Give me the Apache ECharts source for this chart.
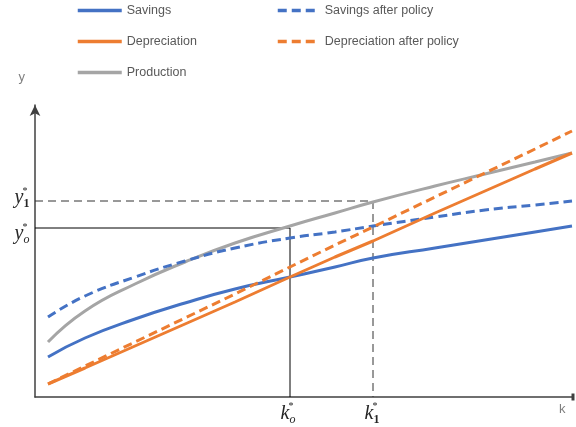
<!DOCTYPE html>
<html>
<head>
<meta charset="utf-8">
<script src="https://cdn.jsdelivr.net/npm/echarts@6/dist/echarts.min.js"></script>
<style>
html,body{margin:0;padding:0;background:#fff;}
#chart{width:576px;height:427px;}
</style>
</head>
<body>
<div id="chart"></div>
<script>
// capital stock k
var kValues = [13, 50, 100, 150, 200, 255, 300, 338, 400, 450, 500, 537];
var savings = [40, 59, 78, 94, 108, 120, 130, 139, 149, 157, 165, 171];
var savingsAfter = [80, 101, 120, 136, 149, 159, 165, 171, 180, 187, 192, 196];
var depreciation = [13, 29, 51, 73, 95, 120, 140, 156, 184, 206, 228, 244];
var depreciationAfter = [13, 31, 55, 79, 103, 130, 152, 170, 200, 224, 248, 266];
var production = [55, 86, 113, 135, 154, 171, 184, 195, 211, 223, 235, 244];
// steady states
var k0 = 255, y0 = 169;
var k1 = 338, y1 = 196;
var xMax = 538, yMax = 292;

function pairs(arr) { return kValues.map(function (k, i) { return [k, arr[i]]; }); }

var BLUE = '#4472C4', ORANGE = '#ED7D31', GRAY = '#A5A5A5';

var rich = {
  v: { fontFamily: 'Liberation Serif', fontStyle: 'italic', fontSize: 20, color: '#262626', lineHeight: 24, verticalAlign: 'middle' },
  subi: { fontFamily: 'Liberation Serif', fontStyle: 'italic', fontSize: 12, color: '#262626', verticalAlign: 'bottom', lineHeight: 24 },
  subn: { fontFamily: 'Liberation Serif', fontWeight: 'bold', fontSize: 12, color: '#262626', verticalAlign: 'bottom', lineHeight: 24 },
  sup: { fontFamily: 'Liberation Serif', fontSize: 10, color: '#262626', verticalAlign: 'top', lineHeight: 24, padding: [0, 0, 0, -7] }
};

function refLabel(pos, main, sub, subStyle, offset, dist) {
  return { show: true, position: pos, distance: dist || 4, offset: offset || [0, 0], formatter: '{v|' + main + '}{' + subStyle + '|' + sub + '}{sup|*}', rich: rich };
}

var legendText = { color: '#595959', fontSize: 12.5, fontFamily: 'Liberation Sans' };

var chart = echarts.init(document.getElementById('chart'));
chart.setOption({
  animation: false,
  backgroundColor: '#ffffff',
  grid: { left: 35, right: 3, top: 105, bottom: 30, containLabel: false },
  legend: [
    {
      orient: 'vertical', left: 76, top: 4, padding: 0, itemWidth: 44, itemHeight: 14, itemGap: 18,
      itemStyle: { opacity: 0 }, lineStyle: { width: 3.5 },
      textStyle: legendText,
      data: ['Savings', 'Depreciation', 'Production']
    },
    {
      orient: 'vertical', left: 276, top: 4, padding: 0, itemWidth: 42, itemHeight: 14, itemGap: 18,
      itemStyle: { opacity: 0 }, lineStyle: { width: 3.5 },
      textStyle: legendText,
      data: ['Savings after policy', 'Depreciation after policy']
    }
  ],
  xAxis: {
    type: 'value', min: 0, max: xMax,
    name: 'k', nameLocation: 'end', nameGap: -14,
    nameTextStyle: { color: '#7f7f7f', fontSize: 13, fontFamily: 'Liberation Sans', align: 'left', verticalAlign: 'top', padding: [6, 0, 0, 0] },
    axisLine: { show: true, lineStyle: { color: '#404040', width: 1.5 }, symbol: ['none', 'rect'], symbolSize: [7, 3] },
    axisTick: { show: false }, axisLabel: { show: false }, splitLine: { show: false }
  },
  yAxis: {
    type: 'value', min: 0, max: yMax,
    name: 'y', nameLocation: 'end', nameGap: 21,
    nameTextStyle: { color: '#7f7f7f', fontSize: 13, fontFamily: 'Liberation Sans', align: 'right', padding: [0, 10, 0, 0] },
    axisLine: { show: true, lineStyle: { color: '#404040', width: 1.5 }, symbol: ['none', 'arrow'], symbolSize: [8, 11] },
    axisTick: { show: false }, axisLabel: { show: false }, splitLine: { show: false }
  },
  series: [
    {
      name: 'ref0', type: 'line', silent: true, symbol: 'circle', symbolSize: 1, showSymbol: true,
      itemStyle: { color: 'rgba(0,0,0,0)' },
      lineStyle: { color: '#000000', width: 1 },
      data: [
        { value: [0, y0], label: refLabel('left', 'y', 'o', 'subi', [0, 6], 7) },
        [k0, y0],
        { value: [k0, 0], label: refLabel('bottom', 'k', 'o', 'subi', [-3, 0]) }
      ],
      z: 1
    },
    {
      name: 'ref1', type: 'line', silent: true, symbol: 'circle', symbolSize: 1, showSymbol: true,
      itemStyle: { color: 'rgba(0,0,0,0)' },
      lineStyle: { color: '#333333', width: 1, type: [8, 5] },
      data: [
        { value: [0, y1], label: refLabel('left', 'y', '1', 'subn', [0, -3], 7) },
        [k1, y1],
        { value: [k1, 0], label: refLabel('bottom', 'k', '1', 'subn', [-2, 0]) }
      ],
      z: 1
    },
    { name: 'Production', type: 'line', symbol: 'none', smooth: 0.5, color: GRAY, lineStyle: { color: GRAY, width: 3 }, data: pairs(production), z: 2 },
    { name: 'Savings', type: 'line', symbol: 'none', smooth: 0.5, color: BLUE, lineStyle: { color: BLUE, width: 3 }, data: pairs(savings), z: 3 },
    { name: 'Savings after policy', type: 'line', symbol: 'none', smooth: 0.5, color: BLUE, lineStyle: { color: BLUE, width: 3, type: [9, 5] }, data: pairs(savingsAfter), z: 3 },
    { name: 'Depreciation', type: 'line', symbol: 'none', color: ORANGE, lineStyle: { color: ORANGE, width: 3 }, data: pairs(depreciation), z: 3 },
    { name: 'Depreciation after policy', type: 'line', symbol: 'none', color: ORANGE, lineStyle: { color: ORANGE, width: 3, type: [9, 5] }, data: pairs(depreciationAfter), z: 3 }
  ]
});
</script>
</body>
</html>
